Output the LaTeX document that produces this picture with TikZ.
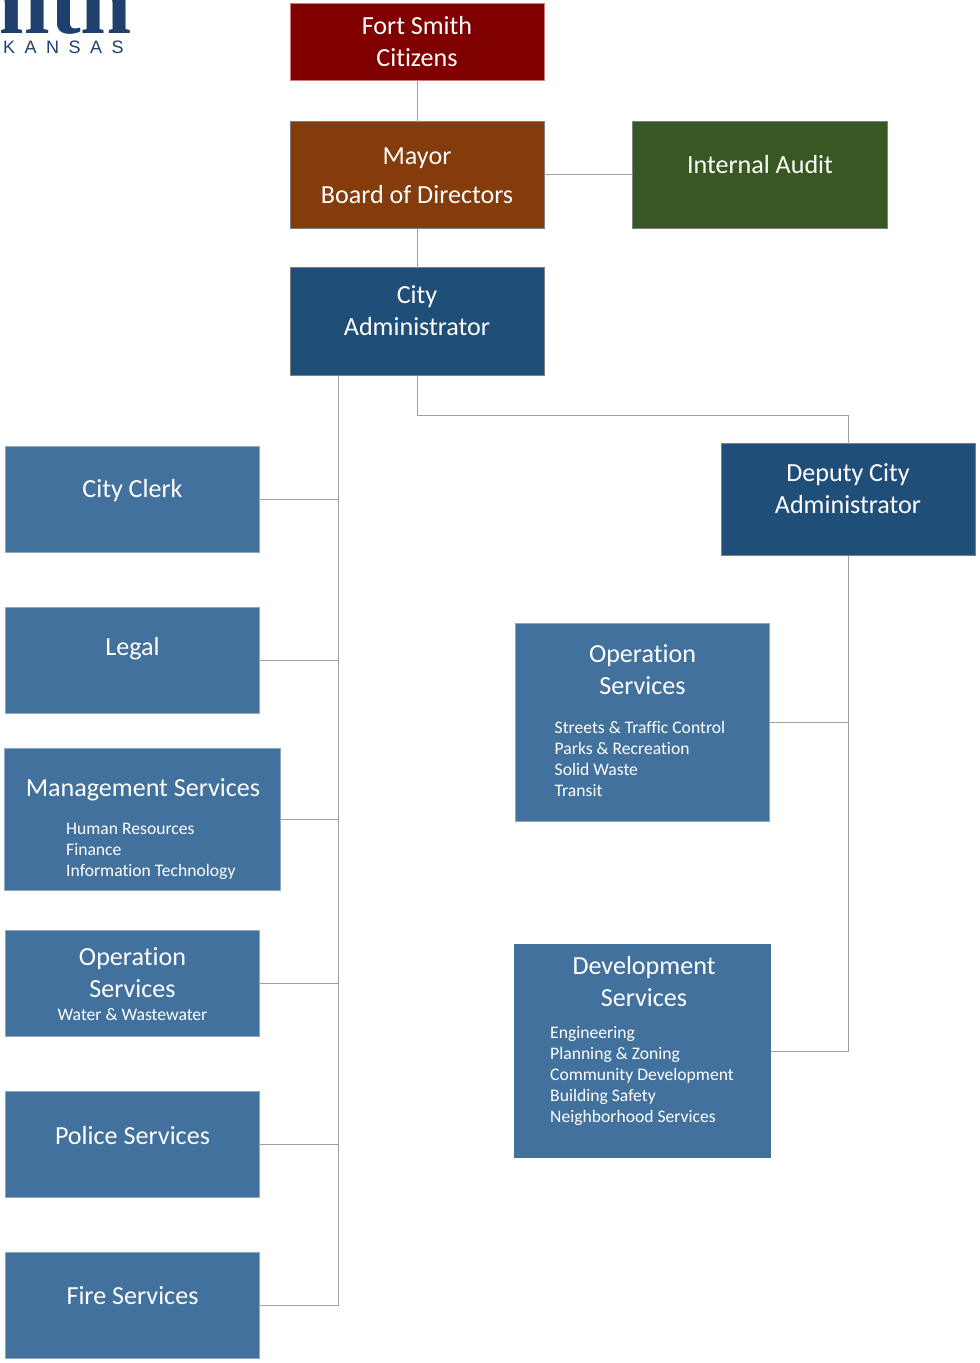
\documentclass[tikz,border=0pt]{standalone}
\usepackage{fontspec}
\setmainfont{Carlito}[RawFeature={-liga;-clig}]
\newfontfamily\logofont{Liberation Serif}
\newfontfamily\logosans{Liberation Sans}
\definecolor{cred}{HTML}{800000}
\definecolor{credb}{HTML}{C88080}
\definecolor{cbrown}{HTML}{843C0C}
\definecolor{cgreen}{HTML}{385723}
\definecolor{cnavy}{HTML}{1F4E79}
\definecolor{cblue}{HTML}{41719C}
\definecolor{cline}{HTML}{A0A0A0}
\definecolor{clogo}{HTML}{1F3F6E}
\tikzset{
  x=1pt,y=-1pt,
  orgbox/.style 2 args={draw=#2,fill=#1,line width=1pt,inner sep=0pt,outer sep=0pt,anchor=north west},
  big/.style={text=white,font=\fontsize{26.1}{31.6}\selectfont,align=center,inner sep=0pt},
  small/.style={text=white,font=\fontsize{17.6}{21}\selectfont,align=left,inner sep=0pt,anchor=west},
  link/.style={draw=cline,line width=1pt},
}
\newcommand{\orgnode}[7]{\node[orgbox={#2}{#3},minimum width=#6-#4-1,minimum height=#7-#5-1] (#1) at (#4+0.5,#5+0.5) {};}
\begin{document}
\begin{tikzpicture}
\useasboundingbox (0,0) rectangle (980,1363);
\begin{scope}
\clip (0,0) rectangle (200,60);
\node[text=clogo,font=\logofont\bfseries\fontsize{92}{92}\selectfont,anchor=base east,inner sep=0pt] (logomain) at (132,33) {mith};
\node[text=clogo,font=\logosans\fontsize{18}{18}\selectfont,anchor=base west,inner sep=0pt] (logosub) at (3,53.5) {K\hspace{9.5pt}A\hspace{9.5pt}N\hspace{9.5pt}S\hspace{9.5pt}A\hspace{9.5pt}S};
\end{scope}
\orgnode{citizens}{cred}{credb}{290}{3}{545}{81}
\orgnode{mayor}{cbrown}{gray}{289.5}{121}{545}{229}
\orgnode{audit}{cgreen}{gray}{632}{121}{888}{229}
\orgnode{admin}{cnavy}{gray}{289.5}{267}{545}{376}
\orgnode{deputy}{cnavy}{gray}{721}{443}{976}{556}
\orgnode{clerk}{cblue}{cblue!60!white}{5}{446}{260}{553}
\orgnode{legal}{cblue}{cblue!60!white}{5}{607}{260}{714}
\orgnode{mgmt}{cblue}{cblue!60!white}{4}{748}{281}{891}
\orgnode{water}{cblue}{cblue!60!white}{5}{930}{260}{1037}
\orgnode{police}{cblue}{cblue!60!white}{5}{1091}{260}{1198}
\orgnode{fire}{cblue}{cblue!60!white}{5}{1252}{260}{1359}
\orgnode{ops}{cblue}{cblue!60!white}{515}{623}{770}{822}
\orgnode{dev}{cblue}{cblue}{514}{944}{771}{1158}
\coordinate (trunk) at (338.5,376);
\coordinate (rail) at (848.5,415);
\draw[link] (citizens.south -| 417,0) -- (mayor.north -| 417,0);
\draw[link] (mayor.south -| 417,0) -- (admin.north -| 417,0);
\draw[link] (mayor.east |- 0,174) -- (audit.west |- 0,174);
\draw[link] (admin.south -| 417,0) |- (rail) -- (deputy.north);
\draw[link] (trunk) |- (fire.east);
\foreach \n in {clerk,legal,mgmt,water,police}{\draw[link] (\n.east) -- (\n.east -| trunk);}
\draw[link] (deputy.south) |- (dev.east);
\draw[link] (deputy.south |- ops.east) -- (ops.east);
\node[big] (t1) at (417,41.5) {Fort Smith\\Citizens};
\node[big,align=center] (t2) at (417,176) {Mayor\\[7pt]Board of Directors};
\node[big] (t3) at (760,164.5) {Internal Audit};
\node[big] (t4) at (417,310.5) {City\\Administrator};
\node[big] (t5) at (848,488.5) {Deputy City\\Administrator};
\node[big] (t6) at (132.5,491) {City Clerk};
\node[big] (t7) at (132.5,649) {Legal};
\node[big] (t8) at (143,790) {Management Services};
\node[small] (t9) at (66,851.5) {Human Resources\\Finance\\Information Technology};
\node[big] (t10) at (132.5,972.5) {Operation\\Services};
\node[text=white,font=\fontsize{17.6}{21}\selectfont,inner sep=0pt] (t11) at (132.5,1015) {Water \& Wastewater};
\node[big] (t12) at (132.5,1135.5) {Police Services};
\node[big] (t13) at (132.5,1295.5) {Fire Services};
\node[big] (t14) at (642.5,669.5) {Operation\\Services};
\node[small] (t15) at (554.5,758.5) {Streets \& Traffic Control\\Parks \& Recreation\\Solid Waste\\Transit};
\node[big] (t16) at (644,981.5) {Development\\Services};
\node[small] (t17) at (550,1075.5) {Engineering\\Planning \& Zoning\\Community Development\\Building Safety\\Neighborhood Services};
\end{tikzpicture}
\end{document}
